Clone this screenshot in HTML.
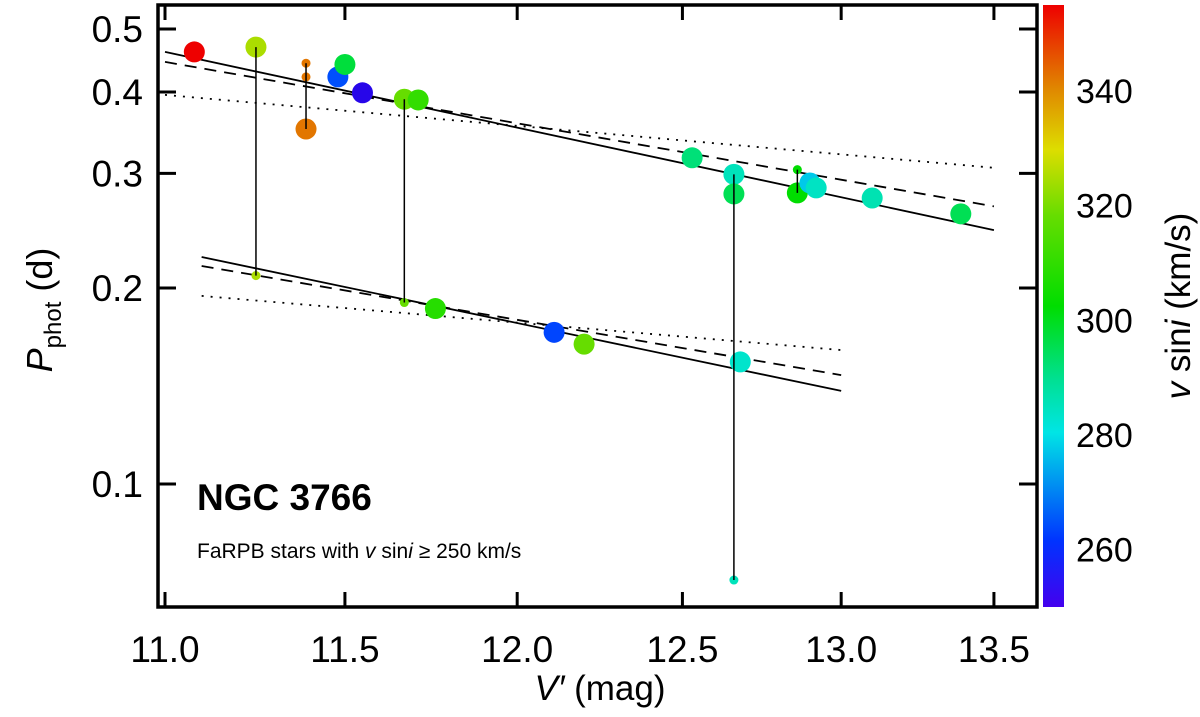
<!DOCTYPE html>
<html><head><meta charset="utf-8"><style>
html,body{margin:0;padding:0;background:#fff;}
svg{display:block;font-family:"Liberation Sans",Arial,sans-serif;}
</style></head><body>
<svg id="chart" width="1200" height="717" viewBox="0 0 1200 717" xmlns="http://www.w3.org/2000/svg">
<defs>
<linearGradient id="cmap" x1="0" y1="1" x2="0" y2="0">
<stop offset="0" stop-color="#4400ee"/>
<stop offset="0.11" stop-color="#0033ff"/>
<stop offset="0.29" stop-color="#00e5e5"/>
<stop offset="0.38" stop-color="#00e090"/>
<stop offset="0.5" stop-color="#00dd00"/>
<stop offset="0.65" stop-color="#66dd00"/>
<stop offset="0.76" stop-color="#dddd00"/>
<stop offset="0.86" stop-color="#e08800"/>
<stop offset="1" stop-color="#ee0000"/>
</linearGradient>
</defs>
<g id="marks"></g>
<g id="axes"></g>
<text x="197" y="510" font-size="37" font-weight="bold">NGC 3766</text>
<text x="197" y="558" font-size="21">FaRPB stars with <tspan font-style="italic">v</tspan> sin<tspan font-style="italic">i</tspan> ≥ 250 km/s</text>
<text x="600" y="700" font-size="35" text-anchor="middle"><tspan font-style="italic">V′</tspan>  (mag)</text>
<text transform="translate(52,310) rotate(-90)" font-size="36" text-anchor="middle"><tspan font-style="italic">P</tspan><tspan font-size="24" dy="9">phot</tspan><tspan dy="-9">  (d)</tspan></text>
<rect x="1043" y="5" width="21" height="602" fill="url(#cmap)"/>
<text transform="translate(1190,306) rotate(-90)" font-size="35" text-anchor="middle"><tspan font-style="italic">v</tspan> sin<tspan font-style="italic">i</tspan>  (km/s)</text>
</svg>
<script>
const starV = [11.08, 11.25, 11.39, 11.48, 11.50, 11.55, 11.67, 11.71, 12.53, 12.66, 12.66, 12.86, 12.90, 12.92, 13.10, 13.39, 11.25, 11.67, 11.76, 12.11, 12.20, 12.68, 12.66, 11.39, 11.39, 12.86];
const starP = [0.461, 0.469, 0.351, 0.422, 0.441, 0.399, 0.390, 0.389, 0.317, 0.299, 0.279, 0.280, 0.290, 0.285, 0.275, 0.260, 0.209, 0.190, 0.186, 0.171, 0.164, 0.154, 0.0712, 0.443, 0.422, 0.304];
const starVsini = [355, 325, 342, 264, 297, 253, 318, 310, 292, 285, 295, 302, 277, 284, 286, 295, 325, 318, 308, 263, 318, 283, 285, 342, 342, 302];
const starBig = [1,1,1,1,1,1,1,1,1,1,1,1,1,1,1,1,0,0,1,1,1,1,0,0,0,0];
const linkFrom = [1, 23, 6, 9, 25];
const linkTo = [16, 2, 17, 22, 11];
const fitNames = ['upper-solid','upper-dashed','upper-dotted','lower-solid','lower-dashed','lower-dotted'];
const fitV0 = [11.0, 11.0, 11.0, 11.10, 11.10, 11.10];
const fitV1 = [13.5, 13.5, 13.5, 13.0, 13.0, 13.0];
const fitP0 = [0.461, 0.445, 0.396, 0.2232, 0.2162, 0.1945];
const fitP1 = [0.2455, 0.267, 0.306, 0.139, 0.147, 0.1606];
const fitDash = ['', '12,8', '2,7', '', '12,8', '2,7'];
const xTicks = [11.0, 11.5, 12.0, 12.5, 13.0, 13.5];
const xTickLabels = ['11.0','11.5','12.0','12.5','13.0','13.5'];
const yTicks = [0.1, 0.2, 0.3, 0.4, 0.5];
const yTickLabels = ['0.1','0.2','0.3','0.4','0.5'];
const cTicks = [260, 280, 300, 320, 340];
const cTickLabels = ['260','280','300','320','340'];

const X = v => 165 + (Math.log10(v) - Math.log10(11)) * 9320;
const Y = p => 484 - Math.log10(p / 0.1) * 651;
const C = s => 607 - (s - 250) * (602 / 105);
const stops = [[250,[68,0,238]],[255,[20,10,230]],[262,[0,60,255]],[280,[0,229,229]],[290,[0,224,144]],[302,[0,221,0]],[318,[102,221,0]],[330,[221,221,0]],[340,[224,136,0]],[355,[238,0,0]]];
function col(s){
  for(let i=0;i<stops.length-1;i++){
    const a=stops[i],b=stops[i+1];
    if(s<=b[0]){const t=Math.max(0,(s-a[0])/(b[0]-a[0]));
      return 'rgb('+a[1].map((c,k)=>Math.round(c+(b[1][k]-c)*t)).join(',')+')';}
  }
  return 'rgb(238,0,0)';
}
const NS='http://www.w3.org/2000/svg';
function mk(tag, attrs, parent){const e=document.createElementNS(NS,tag);for(const k in attrs)e.setAttribute(k,attrs[k]);parent.appendChild(e);return e;}
const marks=document.getElementById('marks'), axes=document.getElementById('axes');

for(let i=0;i<fitNames.length;i++){
  const l=mk('line',{x1:X(fitV0[i]),y1:Y(fitP0[i]),x2:X(fitV1[i]),y2:Y(fitP1[i]),stroke:'#000','stroke-width':1.8,'stroke-dasharray':fitDash[i]},marks);
  
  
}
for(let i=0;i<starV.length;i++){
  const c=mk('circle',{cx:X(starV[i]),cy:Y(starP[i]),r:starBig[i]?10.5:4.5,fill:col(starVsini[i])},marks);
  
  
}
for(let i=0;i<linkFrom.length;i++){
  const a=linkFrom[i], b=linkTo[i];
  const l=mk('line',{x1:X(starV[a]),y1:Y(starP[a]),x2:X(starV[b]),y2:Y(starP[b]),stroke:'#000','stroke-width':1.5},marks);
  
  
}
const fr=mk('rect',{x:158,y:5,width:879,height:602,fill:'none',stroke:'#000','stroke-width':3.5},axes);


xTicks.forEach((v,i)=>{
  const x=X(v);
  const t1=mk('line',{x1:x,y1:607,x2:x,y2:592,stroke:'#000','stroke-width':3},axes);
  
  
  const t2=mk('line',{x1:x,y1:5,x2:x,y2:20,stroke:'#000','stroke-width':3},axes);
  
  
  const tx=mk('text',{x:x,y:662,'font-size':37,'text-anchor':'middle'},axes);
  tx.textContent=xTickLabels[i];
  
  
});
yTicks.forEach((p,i)=>{
  const y=Y(p);
  const t1=mk('line',{x1:158,y1:y,x2:176,y2:y,stroke:'#000','stroke-width':3},axes);
  
  
  const t2=mk('line',{x1:1037,y1:y,x2:1019,y2:y,stroke:'#000','stroke-width':3},axes);
  
  
  const tx=mk('text',{x:143,y:y+13,'font-size':37,'text-anchor':'end'},axes);
  tx.textContent=yTickLabels[i];
  
  
});
cTicks.forEach((s,i)=>{
  const tx=mk('text',{x:1076,y:C(s)+12,'font-size':34},axes);
  tx.textContent=cTickLabels[i];
  
  
});
</script>
</body></html>
